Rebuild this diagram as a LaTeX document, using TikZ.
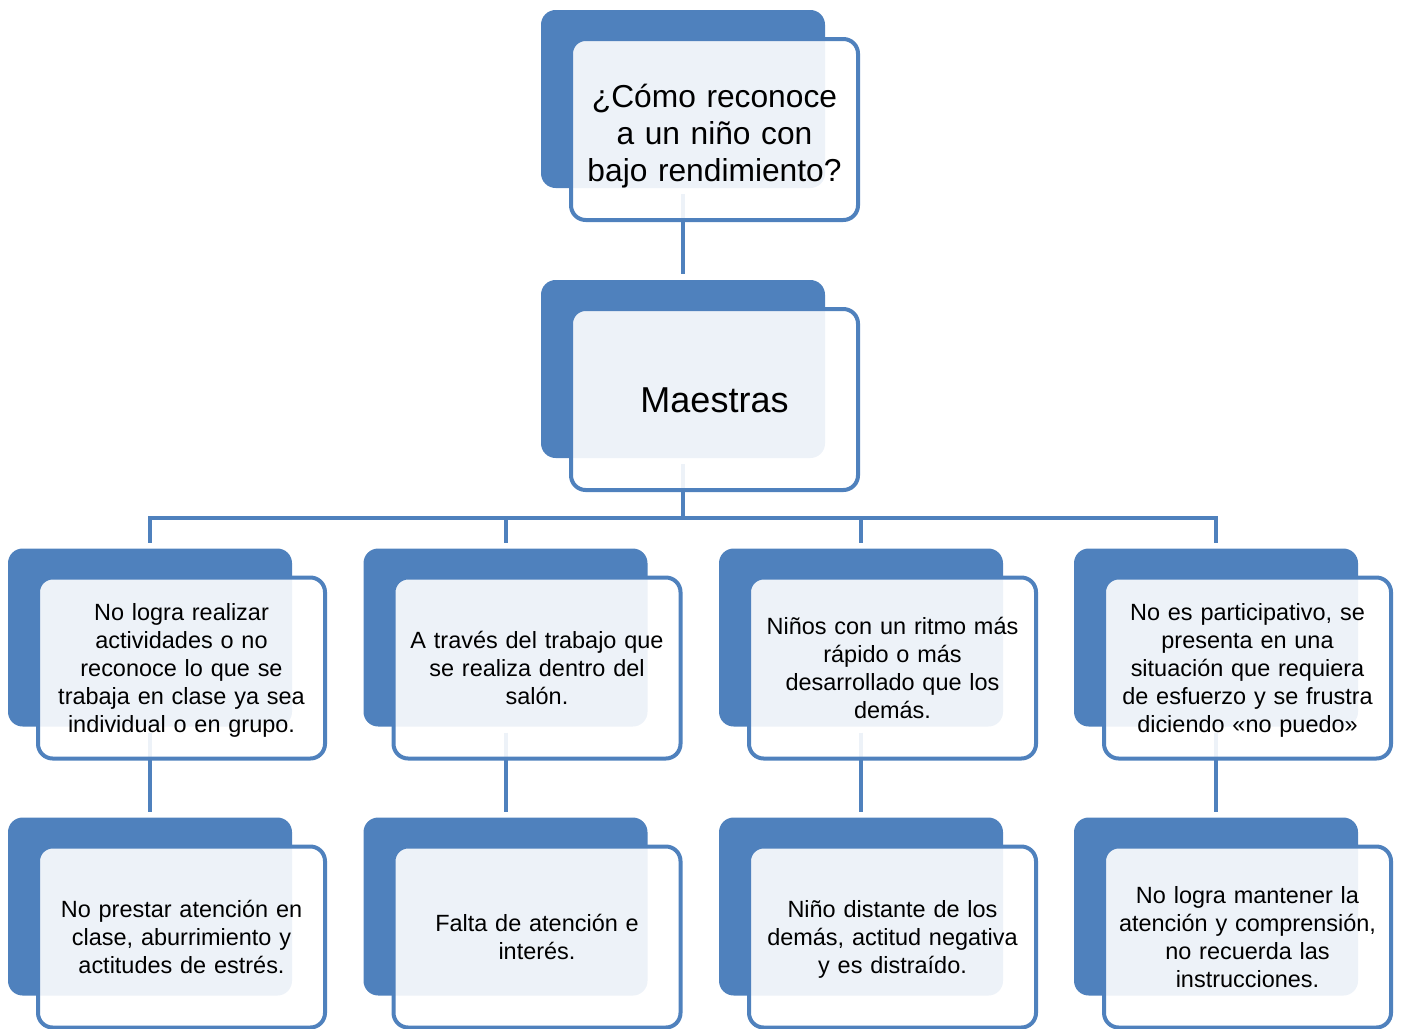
\documentclass[tikz,border=0pt]{standalone}
\usepackage{fontspec}
\setmainfont{Liberation Sans}
\usepackage{xcolor}
\usepackage{tikz}
\definecolor{azulcaja}{HTML}{4F81BD}
\tikzset{
fondo/.style={fill=azulcaja, rounded corners=11pt, inner sep=0pt, outer sep=0pt,
  minimum width=213pt, minimum height=133.5pt},
frente/.style={draw=azulcaja, line width=3pt, fill=white, fill opacity=0.9,
  text opacity=1, rounded corners=11pt, inner sep=0pt, outer sep=0pt,
  minimum width=215.25pt, minimum height=135.75pt, text width=210pt,
  align=center, anchor=north west, font=\fontsize{17.6}{21}\selectfont,
  execute at begin node={\rule{0pt}{17pt}},
  execute at end node={\rule[-4pt]{0pt}{0pt}}},
enlace/.style={draw=azulcaja, line width=3pt, shorten >=4.5pt}
}

\begin{document}
\begin{tikzpicture}[x=0.75pt, y=-0.75pt]
\useasboundingbox (0,0) rectangle (1401,1028);
% cajas de fondo
\node[fondo] (preg) at (683,99) {};
\node[fondo] (maes) at (683,369) {};
\node[fondo] (ua) at (150,637.5) {};
\node[fondo] (ub) at (505.5,637.5) {};
\node[fondo] (uc) at (861,637.5) {};
\node[fondo] (ud) at (1216,637.5) {};
\node[fondo] (da) at (150,906.5) {};
\node[fondo] (db) at (505.5,906.5) {};
\node[fondo] (dc) at (861,906.5) {};
\node[fondo] (dd) at (1216,906.5) {};

% enlaces
\coordinate (bus) at (683,518);
\draw[enlace, shorten <=4.5pt] (preg) -- (maes);
\draw[enlace, shorten >=0pt, shorten <=4.5pt] (maes.south) -- (bus);
\draw[enlace] (bus) -| (ua.north);
\draw[enlace] (bus) -| (ub.north);
\draw[enlace] (bus) -| (uc.north);
\draw[enlace] (bus) -| (ud.north);
\draw[enlace, shorten <=4.5pt] (ua) -- (da);
\draw[enlace, shorten <=4.5pt] (ub) -- (db);
\draw[enlace, shorten <=4.5pt] (uc) -- (dc);
\draw[enlace, shorten <=4.5pt] (ud) -- (dd);

% cajas de texto
\node[frente, font=\fontsize{23.8}{27.75}\selectfont,
  execute at begin node={\rule{0pt}{28pt}},
  execute at end node={\rule[-5.3pt]{0pt}{0pt}}] (pregt) at ([shift={(30,29)}]preg.north west)
  {¿Cómo reconoce\\a un niño con\\bajo rendimiento?};
\node[frente, font=\fontsize{27}{32}\selectfont,
  execute at begin node={\rule{0pt}{23pt}},
  execute at end node=] (maest) at ([shift={(30,29)}]maes.north west)
  {Maestras};
\node[frente] (uat) at ([shift={(30,29)}]ua.north west)
  {No logra realizar\\actividades o no\\reconoce lo que se\\trabaja en clase ya sea\\individual o en grupo.};
\node[frente] (ubt) at ([shift={(30,29)}]ub.north west)
  {A través del trabajo que\\se realiza dentro del\\salón.};
\node[frente] (uct) at ([shift={(30,29)}]uc.north west)
  {Niños con un ritmo más\\rápido o más\\desarrollado que los\\demás.};
\node[frente] (udt) at ([shift={(30,29)}]ud.north west)
  {No es participativo, se\\presenta en una\\situación que requiera\\de esfuerzo y se frustra\\diciendo «no puedo»};
\node[frente] (dat) at ([shift={(30,29)}]da.north west)
  {No prestar atención en\\clase, aburrimiento y\\actitudes de estrés.};
\node[frente] (dbt) at ([shift={(30,29)}]db.north west)
  {Falta de atención e\\interés.};
\node[frente] (dct) at ([shift={(30,29)}]dc.north west)
  {Niño distante de los\\demás, actitud negativa\\y es distraído.};
\node[frente] (ddt) at ([shift={(30,29)}]dd.north west)
  {No logra mantener la\\atención y comprensión,\\no recuerda las\\instrucciones.};
\end{tikzpicture}
\end{document}
